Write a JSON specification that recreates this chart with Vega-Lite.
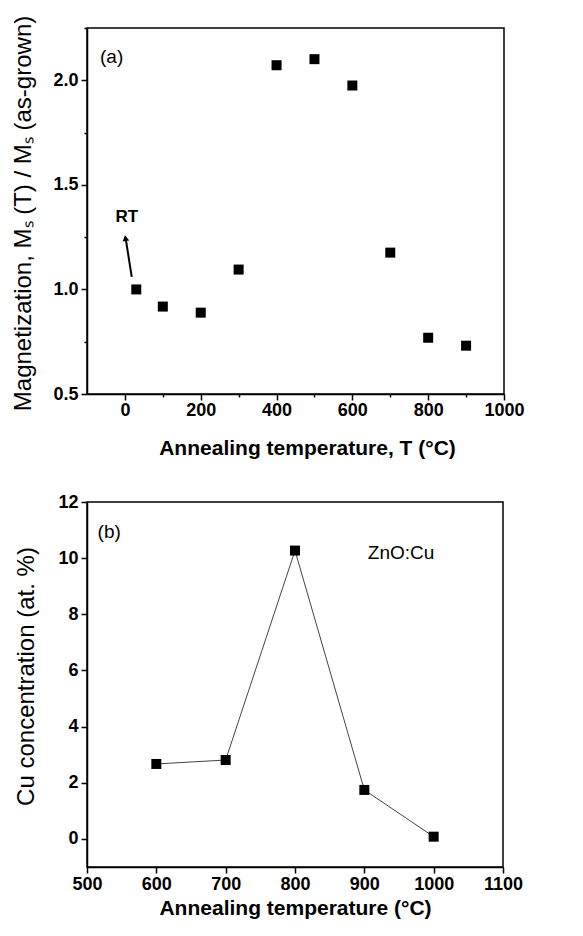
{
  "$schema": "https://vega.github.io/schema/vega-lite/v6.json",
  "padding": {"left": 10, "top": 14, "right": 5, "bottom": 5},
  "background": "white",
  "spacing": 33,
  "config": {
    "font": "Liberation Sans",
    "view": {"stroke": "black", "strokeWidth": 1.5},
    "axis": {
      "domainColor": "black", "domainWidth": 1.5, "tickColor": "black", "tickWidth": 1.5,
      "grid": false, "labelFont": "Liberation Sans", "labelFontWeight": "bold", "labelFontSize": 18,
      "labelColor": "black", "titleColor": "black", "titleFont": "Liberation Sans", "labelOverlap": false
    }
  },
  "vconcat": [
    {
      "width": 417, "height": 366,
      "layer": [
        {
          "data": {"values": [
            {"T": 30, "M": 1.0}, {"T": 100, "M": 0.918}, {"T": 200, "M": 0.889},
            {"T": 300, "M": 1.095}, {"T": 400, "M": 2.072}, {"T": 500, "M": 2.101},
            {"T": 600, "M": 1.975}, {"T": 700, "M": 1.176}, {"T": 800, "M": 0.769}, {"T": 900, "M": 0.731}
          ]},
          "mark": {"type": "point", "shape": "square", "filled": true, "color": "black", "size": 100, "opacity": 1},
          "encoding": {
            "x": {"field": "T", "type": "quantitative", "scale": {"domain": [-100, 1000], "nice": false, "zero": false},
              "axis": {
                "title": "Annealing temperature, T (°C)", "titleFontSize": 21, "titleFontWeight": "bold",
                "titleBaseline": "middle", "titleX": 220, "titleY": 54,
                "values": [0, 100, 200, 300, 400, 500, 600, 700, 800, 900, 1000], "format": "d",
                "labelExpr": "datum.value % 200 === 0 ? datum.label : ''",
                "tickSize": {"condition": {"test": "datum.value % 200 === 0", "value": 6}, "value": 3},
                "labelPadding": 1, "labelFlush": false
              }},
            "y": {"field": "M", "type": "quantitative", "scale": {"domain": [0.5, 2.25], "nice": false, "zero": false},
              "axis": {
                "title": "Magnetization, Mₛ (T) / Mₛ (as-grown)", "titleFontSize": 24, "titleFontWeight": "normal",
                "titleBaseline": "middle", "titleAngle": -90, "titleX": -64, "titleY": 185, "titleAlign": "center",
                "values": [0.5, 0.75, 1.0, 1.25, 1.5, 1.75, 2.0, 2.25], "format": ".1f",
                "labelExpr": "abs(datum.value*2 - round(datum.value*2)) < 0.001 ? datum.label : ''",
                "tickSize": {"condition": {"test": "abs(datum.value*2 - round(datum.value*2)) < 0.001", "value": 6}, "value": 3},
                "labelPadding": 3, "labelFlush": false
              }}
          }
        },
        {
          "data": {"values": [{"T": 18, "M": 1.06}, {"T": 1.5, "M": 1.25}]},
          "mark": {"type": "line", "color": "black", "strokeWidth": 2},
          "encoding": {"x": {"field": "T", "type": "quantitative"}, "y": {"field": "M", "type": "quantitative"}}
        },
        {
          "data": {"values": [{"T": 1.5, "M": 1.245}]},
          "mark": {"type": "point", "shape": "triangle-up", "filled": true, "color": "black", "size": 45, "opacity": 1, "angle": -9},
          "encoding": {"x": {"field": "T", "type": "quantitative"}, "y": {"field": "M", "type": "quantitative"}}
        },
        {
          "data": {"values": [{"T": -35, "M": 2.112, "label": "(a)"}]},
          "mark": {"type": "text", "color": "black", "font": "Liberation Sans", "fontSize": 19, "align": "center", "baseline": "middle"},
          "encoding": {
            "x": {"field": "T", "type": "quantitative"}, "y": {"field": "M", "type": "quantitative"},
            "text": {"field": "label"}
          }
        },
        {
          "data": {"values": [{"T": 5, "M": 1.347, "label": "RT"}]},
          "mark": {"type": "text", "color": "black", "font": "Liberation Sans", "fontSize": 17, "fontWeight": "bold", "align": "center", "baseline": "middle"},
          "encoding": {
            "x": {"field": "T", "type": "quantitative"}, "y": {"field": "M", "type": "quantitative"},
            "text": {"field": "label"}
          }
        }
      ]
    },
    {
      "width": 416, "height": 365,
      "layer": [
        {
          "data": {"values": [
            {"T": 600, "C": 2.67}, {"T": 700, "C": 2.81}, {"T": 800, "C": 10.27}, {"T": 900, "C": 1.745}, {"T": 1000, "C": 0.08}
          ]},
          "mark": {"type": "line", "color": "#444", "strokeWidth": 1},
          "encoding": {
            "x": {"field": "T", "type": "quantitative", "scale": {"domain": [500, 1100], "nice": false, "zero": false},
              "axis": {
                "title": "Annealing temperature (°C)", "titleFontSize": 21, "titleFontWeight": "bold",
                "titleBaseline": "middle", "titleY": 41,
                "values": [500, 550, 600, 650, 700, 750, 800, 850, 900, 950, 1000, 1050, 1100], "format": "d",
                "labelExpr": "datum.value % 100 === 0 ? datum.label : ''",
                "tickSize": {"condition": {"test": "datum.value % 100 === 0", "value": 6}, "value": 3},
                "labelPadding": 2, "labelFlush": false
              }},
            "y": {"field": "C", "type": "quantitative", "scale": {"domain": [-1, 12], "nice": false, "zero": false},
              "axis": {
                "title": "Cu concentration (at. %)", "titleFontSize": 24, "titleFontWeight": "normal",
                "titleBaseline": "middle", "titleAngle": -90, "titleX": -61, "titleY": 174, "titleAlign": "center",
                "values": [0, 1, 2, 3, 4, 5, 6, 7, 8, 9, 10, 11, 12], "format": "d",
                "labelExpr": "datum.value % 2 === 0 ? datum.label : ''",
                "tickSize": {"condition": {"test": "datum.value % 2 === 0", "value": 6}, "value": 3},
                "labelPadding": 3, "labelFlush": false
              }}
          }
        },
        {
          "data": {"values": [
            {"T": 600, "C": 2.67}, {"T": 700, "C": 2.81}, {"T": 800, "C": 10.27}, {"T": 900, "C": 1.745}, {"T": 1000, "C": 0.08}
          ]},
          "mark": {"type": "point", "shape": "square", "filled": true, "color": "black", "size": 100, "opacity": 1},
          "encoding": {"x": {"field": "T", "type": "quantitative"}, "y": {"field": "C", "type": "quantitative"}}
        },
        {
          "data": {"values": [
            {"T": 532, "C": 10.93, "label": "(b)"},
            {"T": 953, "C": 10.18, "label": "ZnO:Cu"}
          ]},
          "mark": {"type": "text", "color": "black", "font": "Liberation Sans", "fontSize": 19, "align": "center", "baseline": "middle"},
          "encoding": {
            "x": {"field": "T", "type": "quantitative"}, "y": {"field": "C", "type": "quantitative"},
            "text": {"field": "label"}
          }
        }
      ]
    }
  ]
}
